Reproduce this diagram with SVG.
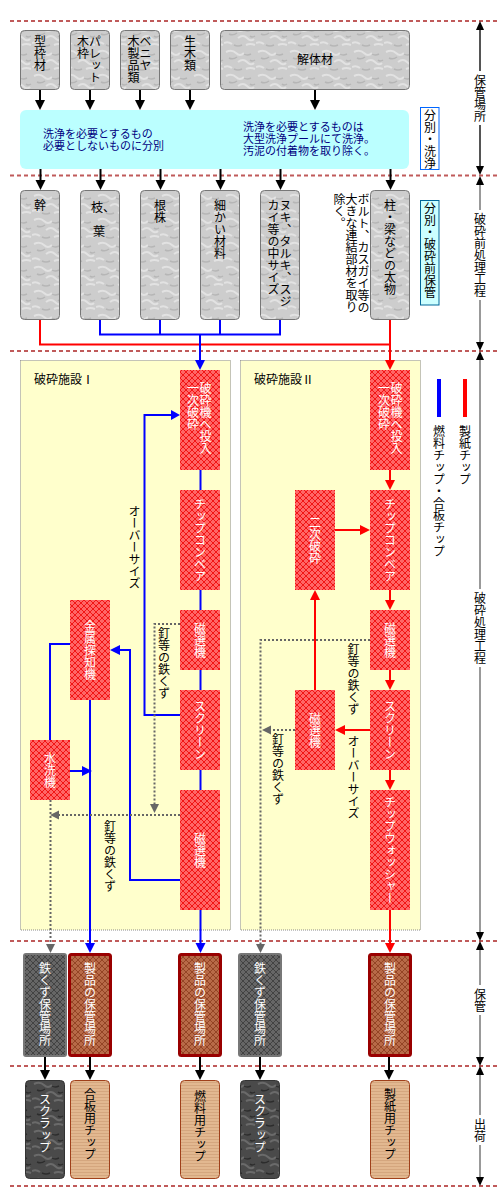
<svg xmlns="http://www.w3.org/2000/svg" width="500" height="1200" viewBox="0 0 500 1200">
<defs>
<style>
text{font-family:"Noto Sans CJK JP","Noto Sans",sans-serif;font-size:12px;fill:#000}
.v{writing-mode:vertical-rl;text-orientation:mixed}
.w{fill:#fff}
.navy{fill:#000080;font-size:11px}
.sep{stroke:#c05a5a;stroke-width:2;stroke-dasharray:4 3;fill:none}
.stone{fill:url(#stone);stroke:#777;stroke-width:1}
.hatch{fill:url(#hatch)}
.blue{stroke:#0000ff;stroke-width:2;fill:none}
.red{stroke:#ff0000;stroke-width:2;fill:none}
.blk{stroke:#000;stroke-width:2;fill:none}
.dot{stroke:#666;stroke-width:2;stroke-dasharray:2 2;fill:none}
.scale{stroke:#999;stroke-width:2;fill:none}
.hb{fill:#0000ff}.hr{fill:#ff0000}.hk{fill:#000}.hg{fill:#666}
.fac{fill:#ffffcc;stroke:#888;stroke-width:1;stroke-dasharray:1 1}
.prod{fill:url(#brown);stroke:#990000;stroke-width:3}
.iron{fill:url(#grayx);stroke:#777;stroke-width:2}
.tan{fill:url(#tan);stroke:#a0401a;stroke-width:1}
.dark{fill:url(#darkstone);stroke:#333;stroke-width:1}
</style>
<pattern id="stone" width="32" height="24" patternUnits="userSpaceOnUse">
<rect width="32" height="24" fill="#cdcdcd"/>
<path d="M2,4 q6,-3 10,1 t8,0 M14,14 q5,-4 9,0 t7,1 M0,19 q4,-2 8,1 M22,21 q4,-2 9,0" stroke="#e2e2e2" stroke-width="2" fill="none"/>
<path d="M5,10 q4,2 8,-1 M20,6 q3,2 7,0 M10,21 q4,2 8,0 M26,12 q2,2 5,0" stroke="#b6b6b6" stroke-width="1.5" fill="none"/>
</pattern>
<pattern id="darkstone" width="32" height="24" patternUnits="userSpaceOnUse">
<rect width="32" height="24" fill="#4a4a4a"/>
<path d="M2,4 q6,-3 10,1 t8,0 M14,14 q5,-4 9,0 t7,1 M0,19 q4,-2 8,1 M22,21 q4,-2 9,0" stroke="#6a6a6a" stroke-width="2" fill="none"/>
<path d="M5,10 q4,2 8,-1 M20,6 q3,2 7,0 M10,21 q4,2 8,0 M26,12 q2,2 5,0" stroke="#2c2c2c" stroke-width="1.5" fill="none"/>
</pattern>
<pattern id="hatch" width="6" height="6" patternUnits="userSpaceOnUse">
<rect width="6" height="6" fill="#ff6666"/>
<path d="M0,0 L6,6 M6,0 L0,6" stroke="#ee0000" stroke-width="0.8"/>
</pattern>
<pattern id="brown" width="6" height="6" patternUnits="userSpaceOnUse">
<rect width="6" height="6" fill="#b86a48"/>
<path d="M0,0 L6,6 M6,0 L0,6" stroke="#8a3a1c" stroke-width="0.8"/>
</pattern>
<pattern id="grayx" width="6" height="6" patternUnits="userSpaceOnUse">
<rect width="6" height="6" fill="#666"/>
<path d="M0,0 L6,6 M6,0 L0,6" stroke="#3a3a3a" stroke-width="0.8"/>
</pattern>
<pattern id="tan" width="6" height="3" patternUnits="userSpaceOnUse">
<rect width="6" height="3" fill="#e2b890"/>
<rect y="2" width="6" height="1" fill="#d4a67e"/>
</pattern>
</defs>

<g id="separators">
<line class="sep" x1="10" y1="21" x2="500" y2="21"/>
<line class="sep" x1="10" y1="175.5" x2="500" y2="175.5"/>
<line class="sep" x1="10" y1="351" x2="500" y2="351"/>
<line class="sep" x1="10" y1="941" x2="500" y2="941"/>
<line class="sep" x1="10" y1="1066" x2="500" y2="1066"/>
<line class="sep" x1="10" y1="1186" x2="500" y2="1186"/>
</g>

<g id="scale">
<line x1="480" y1="29" x2="480" y2="71" stroke="#555" stroke-width="2"/>
<line x1="480" y1="125" x2="480" y2="167" stroke="#555" stroke-width="2"/>
<polygon class="hk" points="476,30 484,30 480,21"/>
<polygon class="hk" points="476,166 484,166 480,175"/>
<text class="v" x="480" y="74">保管場所</text>
<line class="scale" x1="480" y1="184" x2="480" y2="210"/>
<line class="scale" x1="480" y1="300" x2="480" y2="342"/>
<polygon class="hk" points="476,185 484,185 480,176"/>
<polygon class="hk" points="476,342 484,342 480,351"/>
<text class="v" x="480" y="213">破砕前処理工程</text>
<line class="scale" x1="480" y1="359" x2="480" y2="589"/>
<line class="scale" x1="480" y1="667" x2="480" y2="932"/>
<polygon class="hk" points="476,360 484,360 480,351"/>
<polygon class="hk" points="476,932 484,932 480,941"/>
<text class="v" x="480" y="592">破砕処理工程</text>
<line class="scale" x1="480" y1="949" x2="480" y2="985"/>
<line class="scale" x1="480" y1="1015" x2="480" y2="1058"/>
<polygon class="hk" points="476,950 484,950 480,941"/>
<polygon class="hk" points="476,1057 484,1057 480,1066"/>
<text class="v" x="480" y="988">保管</text>
<line class="scale" x1="480" y1="1074" x2="480" y2="1115"/>
<line class="scale" x1="480" y1="1145" x2="480" y2="1178"/>
<polygon class="hk" points="476,1075 484,1075 480,1066"/>
<polygon class="hk" points="476,1177 484,1177 480,1186"/>
<text class="v" x="480" y="1118">出荷</text>
</g>

<g id="facility1">
<rect class="fac" x="20.5" y="360.5" width="210" height="569.5"/>
<text x="34" y="384">破砕施設Ⅰ</text>
</g>
<g id="facility2">
<rect class="fac" x="240.5" y="360.5" width="180" height="569.5"/>
<text x="254" y="384">破砕施設Ⅱ</text>
</g>

<g id="connectors">
<line class="blk" x1="40" y1="89" x2="40" y2="101"/><polygon class="hk" points="35,100 45,100 40,110"/>
<line class="blk" x1="90" y1="89" x2="90" y2="101"/><polygon class="hk" points="85,100 95,100 90,110"/>
<line class="blk" x1="140" y1="89" x2="140" y2="101"/><polygon class="hk" points="135,100 145,100 140,110"/>
<line class="blk" x1="190" y1="89" x2="190" y2="101"/><polygon class="hk" points="185,100 195,100 190,110"/>
<line class="blk" x1="315" y1="89" x2="315" y2="101"/><polygon class="hk" points="310,100 320,100 315,110"/>
<line class="blk" x1="40.5" y1="169" x2="40.5" y2="181"/><polygon class="hk" points="35.5,180 45.5,180 40.5,190"/>
<line class="blk" x1="100.5" y1="169" x2="100.5" y2="181"/><polygon class="hk" points="95.5,180 105.5,180 100.5,190"/>
<line class="blk" x1="160.5" y1="169" x2="160.5" y2="181"/><polygon class="hk" points="155.5,180 165.5,180 160.5,190"/>
<line class="blk" x1="220.5" y1="169" x2="220.5" y2="181"/><polygon class="hk" points="215.5,180 225.5,180 220.5,190"/>
<line class="blk" x1="280.5" y1="169" x2="280.5" y2="181"/><polygon class="hk" points="275.5,180 285.5,180 280.5,190"/>
<line class="blk" x1="390.5" y1="169" x2="390.5" y2="181"/><polygon class="hk" points="385.5,180 395.5,180 390.5,190"/>
<polyline class="red" points="40,319 40,344.5 390,344.5 390,319"/>
<line class="red" x1="390" y1="344" x2="390" y2="361"/><polygon class="hr" points="385,360 395,360 390,370"/>
<polyline class="blue" points="100,319 100,334.5 280,334.5 280,319"/>
<line class="blue" x1="160" y1="319" x2="160" y2="334"/>
<line class="blue" x1="220" y1="319" x2="220" y2="334"/>
<line class="blue" x1="200" y1="334" x2="200" y2="361"/><polygon class="hb" points="195,360 205,360 200,370"/>
<line class="blue" x1="200.5" y1="470" x2="200.5" y2="490"/>
<line class="blue" x1="200.5" y1="590" x2="200.5" y2="610"/>
<line class="blue" x1="200.5" y1="670" x2="200.5" y2="690"/>
<line class="blue" x1="200.5" y1="770" x2="200.5" y2="790"/>
<line class="blue" x1="200.5" y1="910" x2="200.5" y2="944"/><polygon class="hb" points="195.5,943 205.5,943 200.5,953"/>
<polyline class="blue" points="180,715 144.5,715 144.5,415 172,415"/><polygon class="hb" points="171,410 171,420 180,415"/>
<polyline class="blue" points="180,880 130,880 130,650 119,650"/><polygon class="hb" points="120,645 120,655 110,650"/>
<polyline class="blue" points="70,644 50,644 50,740"/>
<line class="blue" x1="70" y1="771" x2="83" y2="771"/><polygon class="hb" points="82,766 82,776 92,771"/>
<line class="blue" x1="90" y1="700" x2="90" y2="944"/><polygon class="hb" points="85,943 95,943 90,953"/>
<polyline class="dot" points="180,624 154.5,624 154.5,805"/><polygon class="hg" points="150,804 159,804 154.5,813"/>
<line class="dot" x1="180" y1="815" x2="58" y2="815"/><polygon class="hg" points="59,810.5 59,819.5 50,815"/>
<line class="dot" x1="50.5" y1="800" x2="50.5" y2="944"/><polygon class="hg" points="46,944 55,944 50.5,953"/>
<line class="red" x1="390" y1="470" x2="390" y2="481"/><polygon class="hr" points="385,480 395,480 390,490"/>
<line class="red" x1="335" y1="530" x2="361" y2="530"/><polygon class="hr" points="360,525 360,535 370,530"/>
<line class="red" x1="390" y1="590" x2="390" y2="601"/><polygon class="hr" points="385,600 395,600 390,610"/>
<line class="red" x1="390" y1="670" x2="390" y2="681"/><polygon class="hr" points="385,680 395,680 390,690"/>
<line class="red" x1="370" y1="730" x2="344" y2="730"/><polygon class="hr" points="345,725 345,735 335,730"/>
<line class="red" x1="315" y1="690" x2="315" y2="599"/><polygon class="hr" points="310,600 320,600 315,590"/>
<line class="red" x1="390" y1="770" x2="390" y2="781"/><polygon class="hr" points="385,780 395,780 390,790"/>
<line class="red" x1="390" y1="910" x2="390" y2="944"/><polygon class="hr" points="385,943 395,943 390,953"/>
<polyline class="dot" points="370,640 260.5,640 260.5,944"/><polygon class="hg" points="256,944 265,944 260.5,953"/>
<line class="dot" x1="295" y1="730" x2="270" y2="730"/><polygon class="hg" points="271,725.5 271,734.5 262,730"/>
<line class="blk" x1="45" y1="1057" x2="45" y2="1071"/><polygon class="hk" points="40,1070 50,1070 45,1080"/>
<line class="blk" x1="90" y1="1057" x2="90" y2="1071"/><polygon class="hk" points="85,1070 95,1070 90,1080"/>
<line class="blk" x1="200" y1="1057" x2="200" y2="1071"/><polygon class="hk" points="195,1070 205,1070 200,1080"/>
<line class="blk" x1="260" y1="1057" x2="260" y2="1071"/><polygon class="hk" points="255,1070 265,1070 260,1080"/>
<line class="blk" x1="389" y1="1057" x2="389" y2="1071"/><polygon class="hk" points="384,1070 394,1070 389,1080"/>
</g>

<g id="src-katawaku"><rect class="stone" x="20.5" y="30.5" width="39" height="59" rx="4"/><text class="v" x="40" y="35">型枠材</text></g>
<g id="src-pallet"><rect class="stone" x="70.5" y="30.5" width="39" height="59" rx="4"/><text class="v" x="95" y="35">パレット</text><text class="v" x="83" y="35">木枠</text></g>
<g id="src-veneer"><rect class="stone" x="120.5" y="30.5" width="39" height="59" rx="4"/><text class="v" x="145.5" y="35">ベニヤ</text><text class="v" x="133.5" y="35">木製品類</text></g>
<g id="src-namaki"><rect class="stone" x="170.5" y="30.5" width="39" height="59" rx="4"/><text class="v" x="190" y="35">生木類</text></g>
<g id="src-kaitai"><rect class="stone" x="220.5" y="30.5" width="189" height="59" rx="4"/><text x="315" y="64" text-anchor="middle">解体材</text></g>

<g id="cleaning">
<rect x="20" y="110" width="389" height="59" rx="6" fill="#bbffff"/>
<text class="navy"><tspan x="43" y="138">洗浄を必要とするもの</tspan><tspan x="43" y="150">必要としないものに分別</tspan></text>
<text class="navy"><tspan x="243" y="131">洗浄を必要とするものは</tspan><tspan x="243" y="143">大型洗浄プールにて洗浄。</tspan><tspan x="243" y="155">汚泥の付着物を取り除く。</tspan></text>
</g>
<g id="label-sort-wash"><rect x="420.5" y="107.5" width="18.5" height="62" fill="#fff" stroke="#0066ff"/><text class="v" x="430" y="109">分別・洗浄</text></g>

<g id="r2-miki"><rect class="stone" x="20.5" y="190.5" width="39" height="129" rx="4"/><text class="v" x="40" y="199">幹</text></g>
<g id="r2-eda"><rect class="stone" x="80.5" y="190.5" width="39" height="129" rx="4"/><text><tspan x="91" y="212">枝、</tspan><tspan x="93" y="236">葉</tspan></text></g>
<g id="r2-nekabu"><rect class="stone" x="140.5" y="190.5" width="39" height="129" rx="4"/><text class="v" x="160" y="199">根株</text></g>
<g id="r2-komakai"><rect class="stone" x="200.5" y="190.5" width="39" height="129" rx="4"/><text class="v" x="220" y="199">細かい材料</text></g>
<g id="r2-nuki"><rect class="stone" x="260.5" y="190.5" width="39" height="129" rx="4"/><text class="v" x="285.5" y="199">ヌキ、タルキ、スジ</text><text class="v" x="273.5" y="199">カイ等の中サイズ</text></g>
<g id="r2-hashira"><rect class="stone" x="370.5" y="190.5" width="39" height="129" rx="4"/><text class="v" x="390" y="199">柱・梁などの太物</text></g>
<g id="note-bolt"><text class="v" x="363.5" y="193">ボルト、カスガイ等の</text><text class="v" x="351.5" y="193">大きな連結部材を取り</text><text class="v" x="339.5" y="193">除く。</text></g>
<g id="label-presort"><rect x="420.5" y="200.5" width="18.5" height="104.5" fill="#ccffff" stroke="#006699"/><text class="v" x="430" y="202">分別・破砕前保管</text></g>

<g id="f1-crusher"><rect class="hatch" x="180" y="370" width="40" height="100"/><text class="v w" x="205.5" y="382">破砕機へ投入</text><text class="v w" x="193" y="382">一次破砕</text></g>
<g id="f1-conveyor"><rect class="hatch" x="180" y="490" width="40" height="100"/><text class="v w" x="200" y="498">チップコンベア</text></g>
<g id="f1-mag1"><rect class="hatch" x="180" y="610" width="40" height="60"/><text class="v w" x="200" y="622">磁選機</text></g>
<g id="f1-screen"><rect class="hatch" x="180" y="690" width="40" height="80"/><text class="v w" x="200" y="700">スクリーン</text></g>
<g id="f1-mag2"><rect class="hatch" x="180" y="790" width="40" height="120"/><text class="v w" x="200" y="832">磁選機</text></g>
<g id="f1-detector"><rect class="hatch" x="70" y="600" width="40" height="100"/><text class="v w" x="90" y="620">金属探知機</text></g>
<g id="f1-washer"><rect class="hatch" x="30" y="740" width="40" height="60"/><text class="v w" x="50" y="752">水洗機</text></g>
<g id="f1-labels">
<text class="v" x="134.5" y="505">オーバーサイズ</text>
<text class="v" x="164" y="627">釘等の鉄くず</text>
<text class="v" x="110" y="820">釘等の鉄くず</text>
</g>

<g id="f2-crusher"><rect class="hatch" x="370" y="370" width="40" height="100"/><text class="v w" x="396.5" y="382">破砕機へ投入</text><text class="v w" x="384" y="382">一次破砕</text></g>
<g id="f2-conveyor"><rect class="hatch" x="370" y="490" width="40" height="100"/><text class="v w" x="390" y="498">チップコンベア</text></g>
<g id="f2-secondary"><rect class="hatch" x="295" y="490" width="40" height="100"/><text class="v w" x="315" y="516">二次破砕</text></g>
<g id="f2-mag1"><rect class="hatch" x="370" y="610" width="40" height="60"/><text class="v w" x="390" y="622">磁選機</text></g>
<g id="f2-screen"><rect class="hatch" x="370" y="690" width="40" height="80"/><text class="v w" x="390" y="700">スクリーン</text></g>
<g id="f2-mag2"><rect class="hatch" x="295" y="690" width="40" height="80"/><text class="v w" x="315" y="712">磁選機</text></g>
<g id="f2-washer"><rect class="hatch" x="370" y="790" width="40" height="120"/><text class="v w" x="390" y="796">チップウォッシャー</text></g>
<g id="f2-labels">
<text class="v" x="353.5" y="643">釘等の鉄くず</text>
<text class="v" x="353.5" y="735">オーバーサイズ</text>
<text class="v" x="278" y="733">釘等の鉄くず</text>
</g>

<g id="legend">
<rect x="437" y="379" width="4" height="38" fill="#0000ff"/>
<rect x="463" y="379" width="4" height="38" fill="#ff0000"/>
<text class="v" x="439" y="425">燃料チップ・合板チップ</text>
<text class="v" x="465" y="425">製紙チップ</text>
</g>

<g id="st-iron1"><rect class="iron" x="24" y="954" width="42" height="102" rx="2"/><text class="v w" x="45" y="962">鉄くず保管場所</text></g>
<g id="st-prod1"><rect class="prod" x="69.5" y="954.5" width="41" height="101" rx="2"/><text class="v w" x="90" y="962">製品の保管場所</text></g>
<g id="st-prod2"><rect class="prod" x="179.5" y="954.5" width="41" height="101" rx="2"/><text class="v w" x="200" y="962">製品の保管場所</text></g>
<g id="st-iron2"><rect class="iron" x="239" y="954" width="42" height="102" rx="2"/><text class="v w" x="260" y="962">鉄くず保管場所</text></g>
<g id="st-prod3"><rect class="prod" x="369.5" y="954.5" width="41" height="101" rx="2"/><text class="v w" x="390" y="962">製品の保管場所</text></g>

<g id="sh-scrap1"><rect class="dark" x="25.5" y="1080.5" width="39" height="98" rx="4"/><text class="v w" x="45" y="1093">スクラップ</text></g>
<g id="sh-plywood"><rect class="tan" x="70.5" y="1080.5" width="39" height="98" rx="4"/><text class="v" x="90" y="1088">合板用チップ</text></g>
<g id="sh-fuel"><rect class="tan" x="180.5" y="1080.5" width="39" height="98" rx="4"/><text class="v" x="200" y="1090">燃料用チップ</text></g>
<g id="sh-scrap2"><rect class="dark" x="240.5" y="1080.5" width="39" height="98" rx="4"/><text class="v w" x="260" y="1093">スクラップ</text></g>
<g id="sh-paper"><rect class="tan" x="370.5" y="1080.5" width="39" height="98" rx="4"/><text class="v" x="390" y="1088">製紙用チップ</text></g>
</svg>
